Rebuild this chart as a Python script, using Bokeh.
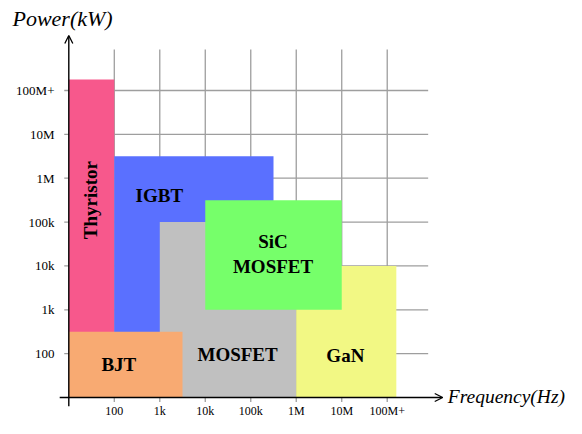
import math
from bokeh.plotting import figure
from bokeh.models import ColumnDataSource, Arrow, OpenHead
from bokeh.core.properties import value
from bokeh.embed import file_html
from bokeh.resources import INLINE

# ---- data (decade index units: 1 = 100, 2 = 1k, ... 7 = 100M+) ----
devices = ["Thyristor", "IGBT", "MOSFET", "GaN", "SiC MOSFET", "BJT"]
freq_lo = [0, 1, 2, 5, 3, 0]
freq_hi = [1, 4.5, 5, 7.2, 6, 2.5]
power_lo = [0, 0, 0, 0, 2, 0]
power_hi = [7.25, 5.5, 4, 3, 4.5, 1.5]
colors = ["#F7588C", "#5A70FF", "#C0C0C0", "#F2F884", "#76FF6A", "#F8AA72"]

label_text = ["Thyristor", "IGBT", "MOSFET", "GaN", "SiC\nMOSFET", "BJT"]
label_x = [0.48, 1.99, 3.71, 6.08, 4.49, 1.10]
label_y = [4.5, 4.61, 0.98, 0.96, 3.27, 0.75]
label_angle = [math.pi / 2, 0, 0, 0, 0, 0]

tick_pos = [1, 2, 3, 4, 5, 6, 7]
tick_labels = ["100", "1k", "10k", "100k", "1M", "10M", "100M+"]

x_title = "Frequency(Hz)"
y_title = "Power(kW)"

# ---- figure ----
W, H = 566, 418
p = figure(width=W, height=H, output_backend="svg", toolbar_location=None,
           x_range=(-1.5014, 10.941), y_range=(-0.479, 9.052),
           min_border=0, min_border_left=0, min_border_right=0,
           min_border_top=0, min_border_bottom=0)
p.axis.visible = False
p.xgrid.visible = False
p.ygrid.visible = False
p.outline_line_color = None
p.background_fill_color = "white"
p.border_fill_color = "white"

grid_col = "#9E9E9E"
# vertical grid lines
p.segment(x0=tick_pos, y0=[0] * 7, x1=tick_pos, y1=[7.934] * 7,
          line_color=grid_col, line_width=1.3)
# horizontal grid lines
p.segment(x0=[0] * 7, y0=tick_pos, x1=[7.9] * 7, y1=tick_pos,
          line_color=grid_col, line_width=1.3)

# rectangles
src = ColumnDataSource(dict(left=freq_lo, right=freq_hi, bottom=power_lo,
                            top=power_hi, color=colors))
p.quad(left="left", right="right", bottom="bottom", top="top",
       fill_color="color", line_color=None, source=src)

# tick marks
TL = 0.1
p.segment(x0=tick_pos, y0=[0] * 7, x1=tick_pos, y1=[-TL] * 7,
          line_color=grid_col, line_width=1.3)
p.segment(x0=[0] * 7, y0=tick_pos, x1=[-TL] * 7, y1=tick_pos,
          line_color=grid_col, line_width=1.3)

# axes with arrows
p.add_layout(Arrow(end=OpenHead(size=8, line_width=1.3, line_color="black"),
                   x_start=-0.2, y_start=0, x_end=8.22, y_end=0,
                   line_width=1.4, line_color="black"))
p.add_layout(Arrow(end=OpenHead(size=8, line_width=1.3, line_color="black"),
                   x_start=0, y_start=-0.2, x_end=0, y_end=8.254,
                   line_width=1.4, line_color="black"))

serif = value("Liberation Serif")
# y tick labels (right aligned)
p.text(x=[-0.314] * 7, y=tick_pos, text=tick_labels, text_align="right",
       text_baseline="middle", text_font=serif, text_font_size="13px",
       text_color="black")
# x tick labels (centred)
p.text(x=tick_pos, y=[-0.319] * 7, text=tick_labels, text_align="center",
       text_baseline="alphabetic", text_font=serif, text_font_size="12px",
       text_color="black")

# axis titles
p.text(x=[8.33], y=[0.02], text=[x_title], text_align="left",
       text_baseline="middle", text_font=serif, text_font_style="italic",
       text_font_size="19.5px", text_color="black")
p.text(x=[-1.238], y=[8.641], text=[y_title], text_align="left",
       text_baseline="middle", text_font=serif, text_font_style="italic",
       text_font_size="22px", text_color="black")

# device labels
p.text(x=label_x, y=label_y, text=label_text, angle=label_angle,
       text_align="center", text_baseline="middle", text_font=serif,
       text_font_style="bold", text_font_size="19px", text_color="black",
       text_line_height=1.2)

open("out.html", "w").write(file_html(p, INLINE))
